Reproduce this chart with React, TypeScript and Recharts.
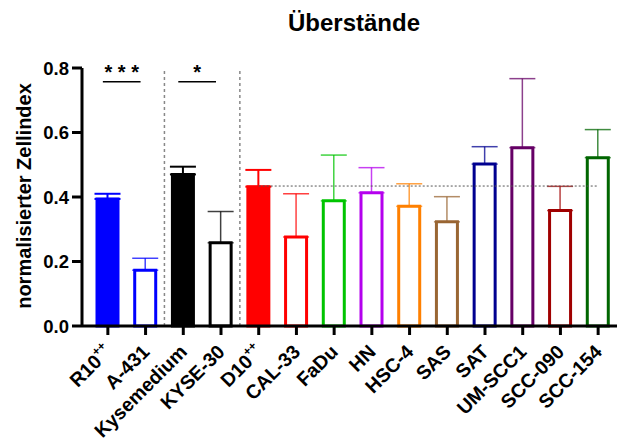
import React from "react";
import {
  BarChart,
  Bar,
  XAxis,
  YAxis,
  Cell,
  ErrorBar,
  ReferenceLine,
} from "recharts";

const FONT = "'Liberation Sans', Arial, sans-serif";

const categories = [
  "R10++",
  "A-431",
  "Kysemedium",
  "KYSE-30",
  "D10++",
  "CAL-33",
  "FaDu",
  "HN",
  "HSC-4",
  "SAS",
  "SAT",
  "UM-SCC1",
  "SCC-090",
  "SCC-154",
];
const means = [0.394, 0.173, 0.47, 0.258, 0.432, 0.276, 0.388, 0.413, 0.371, 0.323, 0.502, 0.553, 0.358, 0.522];
const sds = [0.016, 0.037, 0.024, 0.097, 0.052, 0.134, 0.142, 0.078, 0.07, 0.078, 0.054, 0.214, 0.075, 0.087];
const colors = [
  "#0000ff",
  "#0000ff",
  "#000000",
  "#000000",
  "#ff0000",
  "#ff0000",
  "#00c400",
  "#b400ee",
  "#ff8000",
  "#996633",
  "#000090",
  "#660066",
  "#a00000",
  "#006600",
];
const filled = [true, false, true, false, true, false, false, false, false, false, false, false, false, false];
const yTicks = [0, 0.2, 0.4, 0.6, 0.8];
const controlMean = 0.434;
const sigLevel = 0.757;

const data = categories.map((name, i) => ({ name, mean: means[i], sd: sds[i] }));

const XTick = (props: any) => {
  const { x, y, payload } = props;
  const name: string = payload.value;
  const sup = name.endsWith("++");
  const base = sup ? name.slice(0, -2) : name;
  return (
    <g transform={`translate(${x + 5},${y + 16}) rotate(-45)`}>
      <text textAnchor="end" fontSize={19.5} fontWeight="bold" fill="#000" fontFamily={FONT}>
        {base}
        {sup && (
          <tspan dy={-9} fontSize={12}>
            ++
          </tspan>
        )}
      </text>
    </g>
  );
};

// significance bars sit a little left of the bar centres in the original
const SigLine = (props: any) => (
  <line
    x1={props.x1 - 5}
    x2={props.x2 - 5}
    y1={props.y1}
    y2={props.y2}
    stroke="#000"
    strokeWidth={1.5}
  />
);

const sigLabel = (value: string) => ({
  value,
  position: "top" as const,
  offset: 3,
  dx: -5,
  fill: "#000",
  fontSize: 20,
  fontWeight: "bold",
  fontFamily: FONT,
});

export default function App() {
  return (
    <div style={{ position: "absolute", left: 0, top: 0, width: 619, height: 441, background: "#fff" }}>
      <div
        style={{
          position: "absolute",
          left: 254,
          width: 200,
          top: 9,
          textAlign: "center",
          fontFamily: FONT,
          fontWeight: "bold",
          fontSize: 24,
        }}
      >
        Überstände
      </div>
      <div
        style={{
          position: "absolute",
          left: 24,
          top: 196,
          transform: "translate(-50%, -50%) rotate(-90deg)",
          whiteSpace: "nowrap",
          fontFamily: FONT,
          fontWeight: "bold",
          fontSize: 20,
        }}
      >
        normalisierter Zellindex
      </div>
      <BarChart
        width={619}
        height={441}
        data={data}
        margin={{ top: 68, right: 2, left: 12, bottom: 0 }}
        barSize={21}
      >
        <XAxis
          dataKey="name"
          interval={0}
          height={115}
          padding={{ left: 7, right: 0 }}
          stroke="#000"
          strokeWidth={3}
          tickSize={9}
          tickLine={{ stroke: "#000", strokeWidth: 3 }}
          tick={<XTick />}
        />
        <YAxis
          width={70}
          domain={[0, 0.8]}
          ticks={yTicks}
          tickFormatter={(v: number) => v.toFixed(1)}
          stroke="#000"
          strokeWidth={3}
          tickSize={10}
          tickMargin={3}
          tickLine={{ stroke: "#000", strokeWidth: 3 }}
          tick={{ fill: "#000", fontSize: 18.5, fontWeight: "bold", fontFamily: FONT }}
        />
        <Bar dataKey="mean" isAnimationActive={false} strokeWidth={3}>
          {data.map((d, i) => (
            <Cell key={d.name} fill={filled[i] ? colors[i] : "#ffffff"} stroke={colors[i]} />
          ))}
          {categories.map((c, i) => (
            <ErrorBar
              key={c}
              dataKey={(d: any) => (d.name === c ? [0, d.sd] : null)}
              width={13}
              stroke={colors[i]}
              strokeWidth={filled[i] ? 2 : 1.5}
              strokeOpacity={filled[i] ? 1 : 0.75}
              isAnimationActive={false}
            />
          ))}
        </Bar>
        <ReferenceLine x="Kysemedium" position="start" stroke="#888" strokeDasharray="3 3" strokeWidth={1.5} />
        <ReferenceLine x="D10++" position="start" stroke="#888" strokeDasharray="3 3" strokeWidth={1.5} />
        <ReferenceLine
          segment={[
            { x: "D10++", y: controlMean },
            { x: "SCC-154", y: controlMean },
          ]}
          stroke="#555"
          strokeDasharray="2 2"
          strokeWidth={1}
        />
        <ReferenceLine
          segment={[
            { x: "R10++", y: sigLevel },
            { x: "A-431", y: sigLevel },
          ]}
          shape={SigLine}
          label={sigLabel("* * *")}
        />
        <ReferenceLine
          segment={[
            { x: "Kysemedium", y: sigLevel },
            { x: "KYSE-30", y: sigLevel },
          ]}
          shape={SigLine}
          label={sigLabel("*")}
        />
      </BarChart>
    </div>
  );
}
